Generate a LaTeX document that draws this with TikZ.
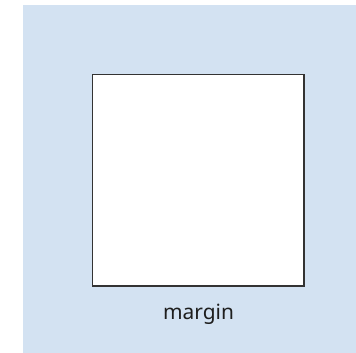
\documentclass[tikz,border=0pt]{standalone}
\usepackage{fontspec}
\setmainfont{Noto Sans}
\definecolor{bgblue}{HTML}{D3E2F2}
\definecolor{boxline}{HTML}{333333}
\definecolor{lbltext}{HTML}{1E1E1E}
\tikzset{
  panel/.style={fill=bgblue, draw=none},
  contentbox/.style={draw=boxline, fill=white, line width=1.4bp},
  lbl/.style={font=\fontsize{21}{24}\selectfont, text=lbltext, inner sep=0pt, anchor=base}
}
\begin{document}
\begin{tikzpicture}[x=1bp,y=-1bp]
\useasboundingbox (0,0) rectangle (356,353);
\fill[panel] (23,5) rectangle (356,353);
\draw[contentbox] (92.5,74.5) rectangle (304,286);
\node[lbl] (margin) at (198.5,319.5) {margin};
\end{tikzpicture}
\end{document}
